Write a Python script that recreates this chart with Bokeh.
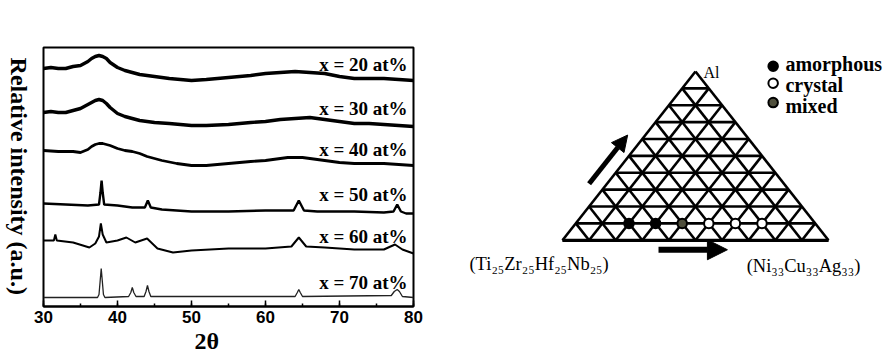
import numpy as np
from bokeh.plotting import figure
from bokeh.layouts import row
from bokeh.models import Range1d, SingleIntervalTicker, Label, Arrow, NormalHead, Title
from bokeh.embed import file_html
from bokeh.resources import INLINE
from bokeh.core.properties import value

# ---------------- XRD patterns (2theta, stacked relative intensity) ----------------
tt_20 = [30, 31, 32, 33, 34, 35, 36, 36.5, 37, 37.5, 38, 38.5, 39, 40, 41, 42, 43, 45, 47, 50,
         52, 55, 58, 60, 62, 64, 66, 68, 70, 72, 74, 76, 78, 80]
int_20 = [238, 239, 238, 238, 240, 241, 245, 248, 250, 251, 250, 248, 244, 239, 236, 234, 232, 230, 228, 226,
          227, 229, 231, 233, 234, 235, 234, 233, 230, 228, 228, 228, 227, 226]

tt_30 = [30, 31, 32, 33, 34, 35, 36, 36.5, 37, 37.5, 38, 38.5, 39, 40, 41, 42, 43, 45, 47, 50,
         52, 55, 58, 60, 62, 64, 66, 68, 70, 72, 74, 76, 78, 80]
int_30 = [194, 195, 194, 194, 196, 198, 202, 204, 206, 207, 206, 203, 199, 193, 190, 188, 186, 184, 183, 181,
          181, 182, 184, 185, 187, 188, 189, 187, 185, 183, 183, 182, 181, 180]

tt_40 = [30, 32, 34, 35, 36, 36.5, 37, 37.5, 38, 39, 40, 41, 42, 43, 44, 46, 48, 50, 52, 55,
         58, 60, 62, 63, 65, 66, 68, 70, 72, 74, 76, 78, 80]
int_40 = [156, 155, 155, 154, 157, 160, 162, 163, 163, 161, 158, 156, 155, 153, 150, 146, 143, 141, 141, 143,
          145, 146, 148, 149, 149, 148, 146, 144, 143, 143, 143, 142, 141]

tt_50 = [30, 33, 36, 37.5, 37.7, 37.85, 38.0, 38.2, 40, 42, 43.7, 44.1, 44.5, 46, 50, 55, 60,
         63.8, 64.5, 65.2, 67, 72, 76, 77.3, 77.8, 78.3, 79, 80]
int_50 = [103, 102, 101, 102, 114, 126, 114, 102, 101, 99, 99, 106, 99, 97, 95, 95, 96,
          96, 106, 96, 95, 95, 94, 95, 102, 95, 93, 93]

tt_60 = [30, 31.4, 31.6, 31.8, 34, 36.2, 37.0, 37.5, 37.75, 38.0, 38.5, 40, 41.2, 42.4, 44.0, 45.4,
         47.5, 50, 55, 60, 63.5, 64.5, 65.5, 68, 72, 76, 77.5, 78.5, 80]
int_60 = [66, 66, 72, 66, 64, 59, 63, 70, 83, 72, 64, 66, 69, 64, 68, 58,
          54, 56, 58, 58, 60, 69, 60, 59, 57, 57, 62, 57, 53]

tt_70 = [30, 37.3, 37.5, 37.65, 37.8, 37.95, 38.1, 38.3, 41.5, 41.8, 42.0, 42.2, 42.5, 43.6, 43.85,
         44.05, 44.25, 44.5, 64.0, 64.3, 64.5, 64.7, 65.0, 77.0, 77.4, 77.8, 78.1, 78.5, 80]
int_70 = [9, 9, 12, 25, 38, 25, 12, 9, 10, 14, 19, 14, 10, 10, 15,
          21, 15, 10, 10, 14, 17, 14, 10, 11, 15, 17, 15, 10, 9]

series_tt = [tt_20, tt_30, tt_40, tt_50, tt_60, tt_70]
series_int = [int_20, int_30, int_40, int_50, int_60, int_70]
series_labels = ["x = 20 at%", "x = 30 at%", "x = 40 at%", "x = 50 at%", "x = 60 at%", "x = 70 at%"]
label_levels = [242, 198, 157, 112, 70, 24]
x_tick_interval = 10
y_title = "Relative intensity (a.u.)"
x_title = "2θ"

# ---------------- Ternary diagram data ----------------
tern_nicuag = [20, 30, 40, 50, 60, 70]   # at% (Ni33Cu33Ag33)
tern_al = [10, 10, 10, 10, 10, 10]       # at% Al
tern_state = ["amorphous", "amorphous", "mixed", "crystal", "crystal", "crystal"]
legend_states = ["amorphous", "crystal", "mixed"]
grid_divisions = 10

SERIF = value("Liberation Serif")

# ================= Y-title strip =================
yl = figure(width=33, height=356, x_range=Range1d(0, 33), y_range=Range1d(0, 356),
            output_backend="svg", toolbar_location=None, x_axis_location=None,
            y_axis_location=None, min_border=0)
yl.xgrid.visible = False
yl.ygrid.visible = False
yl.outline_line_color = None
yl.text(x=[18], y=[179], text=[y_title], angle=-np.pi / 2, text_align="center",
        text_baseline="middle", text_font=SERIF, text_font_style="bold",
        text_font_size="24px", text_color="black")

# ================= Left: XRD =================
p = figure(width=407, height=356, x_range=Range1d(30, 80), y_range=Range1d(0, 259),
           output_backend="svg", toolbar_location=None, y_axis_location=None,
           min_border_left=10, min_border_right=27, min_border_top=47, min_border_bottom=50)
p.xgrid.visible = False
p.ygrid.visible = False
p.outline_line_color = "black"
p.outline_line_width = 2

ax = p.xaxis[0]
ax.ticker = SingleIntervalTicker(interval=x_tick_interval, num_minor_ticks=2)
ax.major_tick_in = 6
ax.major_tick_out = 0
ax.minor_tick_in = 3
ax.minor_tick_out = 0
ax.major_tick_line_width = 1.5
ax.minor_tick_line_width = 1.5
ax.axis_line_width = 2
ax.major_label_text_font = "Liberation Sans"
ax.major_label_text_font_style = "bold"
ax.major_label_text_font_size = "17px"
ax.major_label_text_color = "black"
ax.major_label_standoff = 4

p.add_layout(Title(text=x_title, align="left", offset=151, standoff=0,
                   text_font="Liberation Serif", text_font_style="bold",
                   text_font_size="24px", text_color="black"), "below")

widths = [3.4, 3.4, 2.8, 2.4, 2.0, 1.3]
colors = ["black", "black", "black", "black", "black", "#222222"]
for tt, it, w, c in zip(series_tt, series_int, widths, colors):
    p.line(tt, it, line_color=c, line_width=w)

p.text(x=[79.2] * len(series_labels), y=label_levels, text=series_labels,
       text_align="right", text_baseline="middle", text_font=SERIF,
       text_font_style="bold", text_font_size="19px", text_color="black")

# ================= Right: ternary =================
s3 = np.sqrt(3) / 2
r = figure(width=448, height=356, x_range=Range1d(-0.4586, 1.2256), y_range=Range1d(-0.3397, 0.9892),
           output_backend="svg", toolbar_location=None, x_axis_location=None, y_axis_location=None,
           min_border=0)
r.xgrid.visible = False
r.ygrid.visible = False
r.outline_line_color = None

gx, gy = [], []
n = grid_divisions
for i in range(n):
    f = i / n
    gx.append([f / 2, 1 - f / 2]); gy.append([f * s3, f * s3])           # constant Al
    gx.append([f, f + (1 - f) / 2]); gy.append([0, (1 - f) * s3])         # constant NiCuAg
    gx.append([1 - f, (1 - f) / 2]); gy.append([0, (1 - f) * s3])        # constant TiZrHfNb
r.multi_line(gx, gy, line_color="black", line_width=2.6)
r.line([0, 1], [0, 0], line_color="black", line_width=3.2)

styles = {
    "amorphous": dict(fill_color="black", line_color="black", size=9.5),
    "crystal": dict(fill_color="white", line_color="black", size=9.5),
    "mixed": dict(fill_color="#4f4f3c", line_color="black", size=9.5),
}
bx = np.array(tern_nicuag) / 100.0
cz = np.array(tern_al) / 100.0
px = bx + cz / 2
py = cz * s3
for st in legend_states:
    idx = [k for k, s in enumerate(tern_state) if s == st]
    r.scatter(px[idx], py[idx], line_width=2, **styles[st])

leg_marker_y = [0.893, 0.806, 0.7066]
leg_text_y = [0.907, 0.795, 0.6906]
for st, my in zip(legend_states, leg_marker_y):
    r.scatter([0.792], [my], line_width=2, **styles[st])
r.text(x=[0.838] * 3, y=leg_text_y, text=legend_states, text_align="left",
       text_baseline="alphabetic", text_font=SERIF, text_font_style="bold",
       text_font_size="20px", text_color="black")

r.add_layout(Label(x=0.53, y=0.862, text="Al", text_align="left", text_baseline="middle",
                   text_font="Liberation Serif", text_font_size="16px", text_color="black"))
r.add_layout(Label(x=-0.088, y=-0.123, text="(Ti₂₅Zr₂₅Hf₂₅Nb₂₅)", text_align="center",
                   text_baseline="middle", text_font="Liberation Serif", text_font_size="18.5px",
                   text_color="black"))
r.add_layout(Label(x=0.906, y=-0.131, text="(Ni₃₃Cu₃₃Ag₃₃)", text_align="center",
                   text_baseline="middle", text_font="Liberation Serif", text_font_size="18.5px",
                   text_color="black"))

r.add_layout(Arrow(x_start=0.10, y_start=0.29, x_end=0.245, y_end=0.54, line_width=5,
                   line_color="black",
                   end=NormalHead(size=16, fill_color="black", line_color="black")))
r.add_layout(Arrow(x_start=0.361, y_start=-0.0485, x_end=0.62, y_end=-0.0485, line_width=6,
                   line_color="black",
                   end=NormalHead(size=20, fill_color="black", line_color="black")))

layout = row(yl, p, r, spacing=0)
open("out.html", "w").write(file_html(layout, INLINE))
